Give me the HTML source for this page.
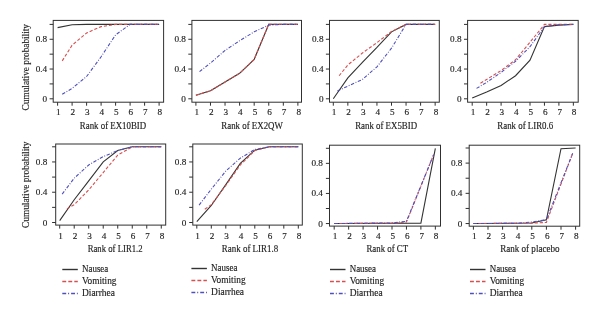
<!DOCTYPE html>
<html><head><meta charset="utf-8"><style>
html,body{margin:0;padding:0;background:#fff;width:600px;height:319px;overflow:hidden}
svg{display:block;will-change:transform}
.tk{font-family:"Liberation Serif",serif;font-size:9.2px;fill:#1e1e1e;stroke:#1e1e1e;stroke-width:0.15px}
.lab{font-family:"Liberation Serif",serif;font-size:9.3px;fill:#1e1e1e;stroke:#1e1e1e;stroke-width:0.15px}
</style></head><body>
<svg width="600" height="319" viewBox="0 0 600 319">
<rect width="600" height="319" fill="#fff"/>
<rect x="53.20" y="20.40" width="110.40" height="81.80" fill="none" stroke="#303030" stroke-width="1"/>
<line x1="49.60" y1="98.80" x2="53.20" y2="98.80" stroke="#303030" stroke-width="1"/>
<line x1="49.60" y1="83.92" x2="53.20" y2="83.92" stroke="#303030" stroke-width="1"/>
<line x1="49.60" y1="69.04" x2="53.20" y2="69.04" stroke="#303030" stroke-width="1"/>
<line x1="49.60" y1="54.16" x2="53.20" y2="54.16" stroke="#303030" stroke-width="1"/>
<line x1="49.60" y1="39.28" x2="53.20" y2="39.28" stroke="#303030" stroke-width="1"/>
<line x1="49.60" y1="24.40" x2="53.20" y2="24.40" stroke="#303030" stroke-width="1"/>
<text x="47.20" y="101.80" class="tk" text-anchor="end">0</text>
<text x="47.20" y="72.04" class="tk" text-anchor="end">0.4</text>
<text x="47.20" y="42.28" class="tk" text-anchor="end">0.8</text>
<line x1="57.60" y1="102.20" x2="57.60" y2="105.70" stroke="#303030" stroke-width="1"/>
<text x="58.40" y="115.00" class="tk" text-anchor="middle">1</text>
<line x1="72.10" y1="102.20" x2="72.10" y2="105.70" stroke="#303030" stroke-width="1"/>
<text x="72.90" y="115.00" class="tk" text-anchor="middle">2</text>
<line x1="86.60" y1="102.20" x2="86.60" y2="105.70" stroke="#303030" stroke-width="1"/>
<text x="87.40" y="115.00" class="tk" text-anchor="middle">3</text>
<line x1="101.10" y1="102.20" x2="101.10" y2="105.70" stroke="#303030" stroke-width="1"/>
<text x="101.90" y="115.00" class="tk" text-anchor="middle">4</text>
<line x1="115.60" y1="102.20" x2="115.60" y2="105.70" stroke="#303030" stroke-width="1"/>
<text x="116.40" y="115.00" class="tk" text-anchor="middle">5</text>
<line x1="130.10" y1="102.20" x2="130.10" y2="105.70" stroke="#303030" stroke-width="1"/>
<text x="130.90" y="115.00" class="tk" text-anchor="middle">6</text>
<line x1="144.60" y1="102.20" x2="144.60" y2="105.70" stroke="#303030" stroke-width="1"/>
<text x="145.40" y="115.00" class="tk" text-anchor="middle">7</text>
<line x1="159.10" y1="102.20" x2="159.10" y2="105.70" stroke="#303030" stroke-width="1"/>
<text x="159.90" y="115.00" class="tk" text-anchor="middle">8</text>
<text x="79.85" y="128.70" class="lab" textLength="66.30" lengthAdjust="spacingAndGlyphs">Rank of EX10BID</text>
<text transform="translate(28.80,67.20) rotate(-90)" class="lab" text-anchor="middle" textLength="86.4" lengthAdjust="spacingAndGlyphs">Cumulative probability</text>
<polyline points="57.60,27.60 72.10,24.70 86.60,24.40 159.10,24.40" fill="none" stroke="#333333" stroke-width="1.1"/>
<polyline points="62.24,60.86 72.10,45.23 86.60,32.96 101.10,26.63 115.60,24.40 159.10,24.40" fill="none" stroke="#d65050" stroke-width="1.1" stroke-dasharray="3.2,1.9"/>
<polyline points="62.24,94.34 72.10,88.38 86.60,76.48 101.10,56.76 115.60,34.82 130.10,24.40 159.10,24.40" fill="none" stroke="#5050bc" stroke-width="1.1" stroke-dasharray="3.4,1.6,0.9,1.6"/>
<rect x="191.90" y="20.40" width="109.60" height="81.80" fill="none" stroke="#303030" stroke-width="1"/>
<line x1="188.30" y1="98.80" x2="191.90" y2="98.80" stroke="#303030" stroke-width="1"/>
<line x1="188.30" y1="83.92" x2="191.90" y2="83.92" stroke="#303030" stroke-width="1"/>
<line x1="188.30" y1="69.04" x2="191.90" y2="69.04" stroke="#303030" stroke-width="1"/>
<line x1="188.30" y1="54.16" x2="191.90" y2="54.16" stroke="#303030" stroke-width="1"/>
<line x1="188.30" y1="39.28" x2="191.90" y2="39.28" stroke="#303030" stroke-width="1"/>
<line x1="188.30" y1="24.40" x2="191.90" y2="24.40" stroke="#303030" stroke-width="1"/>
<text x="185.90" y="101.80" class="tk" text-anchor="end">0</text>
<text x="185.90" y="72.04" class="tk" text-anchor="end">0.4</text>
<text x="185.90" y="42.28" class="tk" text-anchor="end">0.8</text>
<line x1="195.90" y1="102.20" x2="195.90" y2="105.70" stroke="#303030" stroke-width="1"/>
<text x="196.70" y="115.00" class="tk" text-anchor="middle">1</text>
<line x1="210.47" y1="102.20" x2="210.47" y2="105.70" stroke="#303030" stroke-width="1"/>
<text x="211.27" y="115.00" class="tk" text-anchor="middle">2</text>
<line x1="225.04" y1="102.20" x2="225.04" y2="105.70" stroke="#303030" stroke-width="1"/>
<text x="225.84" y="115.00" class="tk" text-anchor="middle">3</text>
<line x1="239.61" y1="102.20" x2="239.61" y2="105.70" stroke="#303030" stroke-width="1"/>
<text x="240.41" y="115.00" class="tk" text-anchor="middle">4</text>
<line x1="254.18" y1="102.20" x2="254.18" y2="105.70" stroke="#303030" stroke-width="1"/>
<text x="254.98" y="115.00" class="tk" text-anchor="middle">5</text>
<line x1="268.75" y1="102.20" x2="268.75" y2="105.70" stroke="#303030" stroke-width="1"/>
<text x="269.55" y="115.00" class="tk" text-anchor="middle">6</text>
<line x1="283.32" y1="102.20" x2="283.32" y2="105.70" stroke="#303030" stroke-width="1"/>
<text x="284.12" y="115.00" class="tk" text-anchor="middle">7</text>
<line x1="297.89" y1="102.20" x2="297.89" y2="105.70" stroke="#303030" stroke-width="1"/>
<text x="298.69" y="115.00" class="tk" text-anchor="middle">8</text>
<text x="221.35" y="128.70" class="lab" textLength="61.50" lengthAdjust="spacingAndGlyphs">Rank of EX2QW</text>
<polyline points="195.90,95.30 210.47,90.84 225.04,82.06 239.61,73.28 254.18,59.37 268.75,24.40 297.89,24.40" fill="none" stroke="#333333" stroke-width="1.1"/>
<polyline points="195.90,95.30 210.47,90.84 225.04,82.06 239.61,73.28 254.18,59.37 268.75,24.40 297.89,24.40" fill="none" stroke="#d65050" stroke-width="1.1" stroke-dasharray="3.2,1.9"/>
<polyline points="199.54,71.64 210.47,63.09 225.04,50.44 239.61,40.77 254.18,31.84 268.75,25.14 283.32,24.40 297.89,24.40" fill="none" stroke="#5050bc" stroke-width="1.1" stroke-dasharray="3.4,1.6,0.9,1.6"/>
<rect x="329.50" y="20.40" width="109.80" height="81.80" fill="none" stroke="#303030" stroke-width="1"/>
<line x1="325.90" y1="98.80" x2="329.50" y2="98.80" stroke="#303030" stroke-width="1"/>
<line x1="325.90" y1="83.92" x2="329.50" y2="83.92" stroke="#303030" stroke-width="1"/>
<line x1="325.90" y1="69.04" x2="329.50" y2="69.04" stroke="#303030" stroke-width="1"/>
<line x1="325.90" y1="54.16" x2="329.50" y2="54.16" stroke="#303030" stroke-width="1"/>
<line x1="325.90" y1="39.28" x2="329.50" y2="39.28" stroke="#303030" stroke-width="1"/>
<line x1="325.90" y1="24.40" x2="329.50" y2="24.40" stroke="#303030" stroke-width="1"/>
<text x="323.50" y="101.80" class="tk" text-anchor="end">0</text>
<text x="323.50" y="72.04" class="tk" text-anchor="end">0.4</text>
<text x="323.50" y="42.28" class="tk" text-anchor="end">0.8</text>
<line x1="333.30" y1="102.20" x2="333.30" y2="105.70" stroke="#303030" stroke-width="1"/>
<text x="334.10" y="115.00" class="tk" text-anchor="middle">1</text>
<line x1="347.85" y1="102.20" x2="347.85" y2="105.70" stroke="#303030" stroke-width="1"/>
<text x="348.65" y="115.00" class="tk" text-anchor="middle">2</text>
<line x1="362.40" y1="102.20" x2="362.40" y2="105.70" stroke="#303030" stroke-width="1"/>
<text x="363.20" y="115.00" class="tk" text-anchor="middle">3</text>
<line x1="376.95" y1="102.20" x2="376.95" y2="105.70" stroke="#303030" stroke-width="1"/>
<text x="377.75" y="115.00" class="tk" text-anchor="middle">4</text>
<line x1="391.50" y1="102.20" x2="391.50" y2="105.70" stroke="#303030" stroke-width="1"/>
<text x="392.30" y="115.00" class="tk" text-anchor="middle">5</text>
<line x1="406.05" y1="102.20" x2="406.05" y2="105.70" stroke="#303030" stroke-width="1"/>
<text x="406.85" y="115.00" class="tk" text-anchor="middle">6</text>
<line x1="420.60" y1="102.20" x2="420.60" y2="105.70" stroke="#303030" stroke-width="1"/>
<text x="421.40" y="115.00" class="tk" text-anchor="middle">7</text>
<line x1="435.15" y1="102.20" x2="435.15" y2="105.70" stroke="#303030" stroke-width="1"/>
<text x="435.95" y="115.00" class="tk" text-anchor="middle">8</text>
<text x="355.15" y="128.70" class="lab" textLength="61.90" lengthAdjust="spacingAndGlyphs">Rank of EX5BID</text>
<polyline points="333.30,98.80 347.85,77.97 362.40,62.34 376.95,47.46 391.50,31.84 406.05,24.40 435.15,24.40" fill="none" stroke="#333333" stroke-width="1.1"/>
<polyline points="339.12,75.74 347.85,64.95 362.40,53.04 376.95,42.63 391.50,31.47 406.05,24.40 435.15,24.40" fill="none" stroke="#d65050" stroke-width="1.1" stroke-dasharray="3.2,1.9"/>
<polyline points="337.37,90.99 347.85,86.15 362.40,79.46 376.95,66.81 391.50,48.21 406.05,24.40 435.15,24.40" fill="none" stroke="#5050bc" stroke-width="1.1" stroke-dasharray="3.4,1.6,0.9,1.6"/>
<rect x="467.60" y="20.40" width="110.60" height="81.80" fill="none" stroke="#303030" stroke-width="1"/>
<line x1="464.00" y1="98.80" x2="467.60" y2="98.80" stroke="#303030" stroke-width="1"/>
<line x1="464.00" y1="83.92" x2="467.60" y2="83.92" stroke="#303030" stroke-width="1"/>
<line x1="464.00" y1="69.04" x2="467.60" y2="69.04" stroke="#303030" stroke-width="1"/>
<line x1="464.00" y1="54.16" x2="467.60" y2="54.16" stroke="#303030" stroke-width="1"/>
<line x1="464.00" y1="39.28" x2="467.60" y2="39.28" stroke="#303030" stroke-width="1"/>
<line x1="464.00" y1="24.40" x2="467.60" y2="24.40" stroke="#303030" stroke-width="1"/>
<text x="461.60" y="101.80" class="tk" text-anchor="end">0</text>
<text x="461.60" y="72.04" class="tk" text-anchor="end">0.4</text>
<text x="461.60" y="42.28" class="tk" text-anchor="end">0.8</text>
<line x1="472.20" y1="102.20" x2="472.20" y2="105.70" stroke="#303030" stroke-width="1"/>
<text x="473.00" y="115.00" class="tk" text-anchor="middle">1</text>
<line x1="486.65" y1="102.20" x2="486.65" y2="105.70" stroke="#303030" stroke-width="1"/>
<text x="487.45" y="115.00" class="tk" text-anchor="middle">2</text>
<line x1="501.10" y1="102.20" x2="501.10" y2="105.70" stroke="#303030" stroke-width="1"/>
<text x="501.90" y="115.00" class="tk" text-anchor="middle">3</text>
<line x1="515.55" y1="102.20" x2="515.55" y2="105.70" stroke="#303030" stroke-width="1"/>
<text x="516.35" y="115.00" class="tk" text-anchor="middle">4</text>
<line x1="530.00" y1="102.20" x2="530.00" y2="105.70" stroke="#303030" stroke-width="1"/>
<text x="530.80" y="115.00" class="tk" text-anchor="middle">5</text>
<line x1="544.45" y1="102.20" x2="544.45" y2="105.70" stroke="#303030" stroke-width="1"/>
<text x="545.25" y="115.00" class="tk" text-anchor="middle">6</text>
<line x1="558.90" y1="102.20" x2="558.90" y2="105.70" stroke="#303030" stroke-width="1"/>
<text x="559.70" y="115.00" class="tk" text-anchor="middle">7</text>
<line x1="573.35" y1="102.20" x2="573.35" y2="105.70" stroke="#303030" stroke-width="1"/>
<text x="574.15" y="115.00" class="tk" text-anchor="middle">8</text>
<text x="497.35" y="128.70" class="lab" textLength="55.80" lengthAdjust="spacingAndGlyphs">Rank of LIR0.6</text>
<polyline points="472.20,97.91 486.65,92.10 501.10,85.41 515.55,75.74 530.00,60.11 544.45,26.63 558.90,25.14 573.35,24.40" fill="none" stroke="#333333" stroke-width="1.1"/>
<polyline points="480.44,83.18 486.65,79.46 501.10,70.53 515.55,59.74 530.00,42.26 544.45,24.40 573.35,24.40" fill="none" stroke="#d65050" stroke-width="1.1" stroke-dasharray="3.2,1.9"/>
<polyline points="476.53,88.38 486.65,82.43 501.10,72.39 515.55,61.23 530.00,46.72 544.45,26.63 558.90,24.77 573.35,24.40" fill="none" stroke="#5050bc" stroke-width="1.1" stroke-dasharray="3.4,1.6,0.9,1.6"/>
<rect x="55.70" y="144.00" width="110.00" height="81.10" fill="none" stroke="#303030" stroke-width="1"/>
<line x1="52.10" y1="222.50" x2="55.70" y2="222.50" stroke="#303030" stroke-width="1"/>
<line x1="52.10" y1="207.36" x2="55.70" y2="207.36" stroke="#303030" stroke-width="1"/>
<line x1="52.10" y1="192.22" x2="55.70" y2="192.22" stroke="#303030" stroke-width="1"/>
<line x1="52.10" y1="177.08" x2="55.70" y2="177.08" stroke="#303030" stroke-width="1"/>
<line x1="52.10" y1="161.94" x2="55.70" y2="161.94" stroke="#303030" stroke-width="1"/>
<line x1="52.10" y1="146.80" x2="55.70" y2="146.80" stroke="#303030" stroke-width="1"/>
<text x="47.30" y="225.50" class="tk" text-anchor="end">0</text>
<text x="47.30" y="195.22" class="tk" text-anchor="end">0.4</text>
<text x="47.30" y="164.94" class="tk" text-anchor="end">0.8</text>
<line x1="59.70" y1="225.10" x2="59.70" y2="228.60" stroke="#303030" stroke-width="1"/>
<text x="60.50" y="239.00" class="tk" text-anchor="middle">1</text>
<line x1="74.21" y1="225.10" x2="74.21" y2="228.60" stroke="#303030" stroke-width="1"/>
<text x="75.01" y="239.00" class="tk" text-anchor="middle">2</text>
<line x1="88.72" y1="225.10" x2="88.72" y2="228.60" stroke="#303030" stroke-width="1"/>
<text x="89.52" y="239.00" class="tk" text-anchor="middle">3</text>
<line x1="103.23" y1="225.10" x2="103.23" y2="228.60" stroke="#303030" stroke-width="1"/>
<text x="104.03" y="239.00" class="tk" text-anchor="middle">4</text>
<line x1="117.74" y1="225.10" x2="117.74" y2="228.60" stroke="#303030" stroke-width="1"/>
<text x="118.54" y="239.00" class="tk" text-anchor="middle">5</text>
<line x1="132.25" y1="225.10" x2="132.25" y2="228.60" stroke="#303030" stroke-width="1"/>
<text x="133.05" y="239.00" class="tk" text-anchor="middle">6</text>
<line x1="146.76" y1="225.10" x2="146.76" y2="228.60" stroke="#303030" stroke-width="1"/>
<text x="147.56" y="239.00" class="tk" text-anchor="middle">7</text>
<line x1="161.27" y1="225.10" x2="161.27" y2="228.60" stroke="#303030" stroke-width="1"/>
<text x="162.07" y="239.00" class="tk" text-anchor="middle">8</text>
<text x="87.65" y="252.30" class="lab" textLength="55.00" lengthAdjust="spacingAndGlyphs">Rank of LIR1.2</text>
<text transform="translate(28.80,184.70) rotate(-90)" class="lab" text-anchor="middle" textLength="86.4" lengthAdjust="spacingAndGlyphs">Cumulative probability</text>
<polyline points="59.70,220.68 74.21,199.79 88.72,180.87 103.23,161.94 117.74,150.59 132.25,146.80 161.27,146.80" fill="none" stroke="#333333" stroke-width="1.1"/>
<polyline points="66.95,208.87 74.21,204.71 88.72,189.95 103.23,172.54 117.74,155.13 132.25,146.80 161.27,146.80" fill="none" stroke="#d65050" stroke-width="1.1" stroke-dasharray="3.2,1.9"/>
<polyline points="62.17,194.11 74.21,178.22 88.72,164.97 103.23,156.64 117.74,150.59 132.25,146.80 161.27,146.80" fill="none" stroke="#5050bc" stroke-width="1.1" stroke-dasharray="3.4,1.6,0.9,1.6"/>
<rect x="192.80" y="144.00" width="109.50" height="81.10" fill="none" stroke="#303030" stroke-width="1"/>
<line x1="189.20" y1="222.50" x2="192.80" y2="222.50" stroke="#303030" stroke-width="1"/>
<line x1="189.20" y1="207.36" x2="192.80" y2="207.36" stroke="#303030" stroke-width="1"/>
<line x1="189.20" y1="192.22" x2="192.80" y2="192.22" stroke="#303030" stroke-width="1"/>
<line x1="189.20" y1="177.08" x2="192.80" y2="177.08" stroke="#303030" stroke-width="1"/>
<line x1="189.20" y1="161.94" x2="192.80" y2="161.94" stroke="#303030" stroke-width="1"/>
<line x1="189.20" y1="146.80" x2="192.80" y2="146.80" stroke="#303030" stroke-width="1"/>
<text x="186.30" y="225.50" class="tk" text-anchor="end">0</text>
<text x="186.30" y="195.22" class="tk" text-anchor="end">0.4</text>
<text x="186.30" y="164.94" class="tk" text-anchor="end">0.8</text>
<line x1="196.80" y1="225.10" x2="196.80" y2="228.60" stroke="#303030" stroke-width="1"/>
<text x="197.60" y="239.00" class="tk" text-anchor="middle">1</text>
<line x1="211.30" y1="225.10" x2="211.30" y2="228.60" stroke="#303030" stroke-width="1"/>
<text x="212.10" y="239.00" class="tk" text-anchor="middle">2</text>
<line x1="225.80" y1="225.10" x2="225.80" y2="228.60" stroke="#303030" stroke-width="1"/>
<text x="226.60" y="239.00" class="tk" text-anchor="middle">3</text>
<line x1="240.30" y1="225.10" x2="240.30" y2="228.60" stroke="#303030" stroke-width="1"/>
<text x="241.10" y="239.00" class="tk" text-anchor="middle">4</text>
<line x1="254.80" y1="225.10" x2="254.80" y2="228.60" stroke="#303030" stroke-width="1"/>
<text x="255.60" y="239.00" class="tk" text-anchor="middle">5</text>
<line x1="269.30" y1="225.10" x2="269.30" y2="228.60" stroke="#303030" stroke-width="1"/>
<text x="270.10" y="239.00" class="tk" text-anchor="middle">6</text>
<line x1="283.80" y1="225.10" x2="283.80" y2="228.60" stroke="#303030" stroke-width="1"/>
<text x="284.60" y="239.00" class="tk" text-anchor="middle">7</text>
<line x1="298.30" y1="225.10" x2="298.30" y2="228.60" stroke="#303030" stroke-width="1"/>
<text x="299.10" y="239.00" class="tk" text-anchor="middle">8</text>
<text x="221.85" y="252.30" class="lab" textLength="56.30" lengthAdjust="spacingAndGlyphs">Rank of LIR1.8</text>
<polyline points="196.80,221.52 211.30,205.47 225.80,184.65 240.30,163.45 254.80,150.21 269.30,146.80 298.30,146.80" fill="none" stroke="#333333" stroke-width="1.1"/>
<polyline points="204.78,209.25 211.30,204.71 225.80,185.41 240.30,164.97 254.80,150.59 269.30,146.80 298.30,146.80" fill="none" stroke="#d65050" stroke-width="1.1" stroke-dasharray="3.2,1.9"/>
<polyline points="199.12,205.09 211.30,189.19 225.80,171.02 240.30,158.16 254.80,149.45 269.30,146.80 298.30,146.80" fill="none" stroke="#5050bc" stroke-width="1.1" stroke-dasharray="3.4,1.6,0.9,1.6"/>
<rect x="329.50" y="145.20" width="111.00" height="80.90" fill="none" stroke="#303030" stroke-width="1"/>
<line x1="325.90" y1="223.55" x2="329.50" y2="223.55" stroke="#303030" stroke-width="1"/>
<line x1="325.90" y1="208.50" x2="329.50" y2="208.50" stroke="#303030" stroke-width="1"/>
<line x1="325.90" y1="193.45" x2="329.50" y2="193.45" stroke="#303030" stroke-width="1"/>
<line x1="325.90" y1="178.40" x2="329.50" y2="178.40" stroke="#303030" stroke-width="1"/>
<line x1="325.90" y1="163.35" x2="329.50" y2="163.35" stroke="#303030" stroke-width="1"/>
<line x1="325.90" y1="148.30" x2="329.50" y2="148.30" stroke="#303030" stroke-width="1"/>
<text x="322.90" y="226.55" class="tk" text-anchor="end">0</text>
<text x="322.90" y="196.45" class="tk" text-anchor="end">0.4</text>
<text x="322.90" y="166.35" class="tk" text-anchor="end">0.8</text>
<line x1="334.20" y1="226.10" x2="334.20" y2="229.60" stroke="#303030" stroke-width="1"/>
<text x="335.00" y="238.90" class="tk" text-anchor="middle">1</text>
<line x1="348.65" y1="226.10" x2="348.65" y2="229.60" stroke="#303030" stroke-width="1"/>
<text x="349.45" y="238.90" class="tk" text-anchor="middle">2</text>
<line x1="363.10" y1="226.10" x2="363.10" y2="229.60" stroke="#303030" stroke-width="1"/>
<text x="363.90" y="238.90" class="tk" text-anchor="middle">3</text>
<line x1="377.55" y1="226.10" x2="377.55" y2="229.60" stroke="#303030" stroke-width="1"/>
<text x="378.35" y="238.90" class="tk" text-anchor="middle">4</text>
<line x1="392.00" y1="226.10" x2="392.00" y2="229.60" stroke="#303030" stroke-width="1"/>
<text x="392.80" y="238.90" class="tk" text-anchor="middle">5</text>
<line x1="406.45" y1="226.10" x2="406.45" y2="229.60" stroke="#303030" stroke-width="1"/>
<text x="407.25" y="238.90" class="tk" text-anchor="middle">6</text>
<line x1="420.90" y1="226.10" x2="420.90" y2="229.60" stroke="#303030" stroke-width="1"/>
<text x="421.70" y="238.90" class="tk" text-anchor="middle">7</text>
<line x1="435.35" y1="226.10" x2="435.35" y2="229.60" stroke="#303030" stroke-width="1"/>
<text x="436.15" y="238.90" class="tk" text-anchor="middle">8</text>
<text x="366.45" y="252.30" class="lab" textLength="41.70" lengthAdjust="spacingAndGlyphs">Rank of CT</text>
<polyline points="334.20,223.55 420.90,223.17 435.35,148.30" fill="none" stroke="#333333" stroke-width="1.1"/>
<polyline points="334.20,223.55 392.00,223.17 406.45,222.05 433.62,154.70" fill="none" stroke="#d65050" stroke-width="1.1" stroke-dasharray="3.2,1.9"/>
<polyline points="334.20,223.55 392.00,222.95 406.45,221.29 433.62,154.70" fill="none" stroke="#5050bc" stroke-width="1.1" stroke-dasharray="3.4,1.6,0.9,1.6"/>
<rect x="469.20" y="145.20" width="110.50" height="81.00" fill="none" stroke="#303030" stroke-width="1"/>
<line x1="465.60" y1="223.55" x2="469.20" y2="223.55" stroke="#303030" stroke-width="1"/>
<line x1="465.60" y1="208.44" x2="469.20" y2="208.44" stroke="#303030" stroke-width="1"/>
<line x1="465.60" y1="193.33" x2="469.20" y2="193.33" stroke="#303030" stroke-width="1"/>
<line x1="465.60" y1="178.22" x2="469.20" y2="178.22" stroke="#303030" stroke-width="1"/>
<line x1="465.60" y1="163.11" x2="469.20" y2="163.11" stroke="#303030" stroke-width="1"/>
<line x1="465.60" y1="148.00" x2="469.20" y2="148.00" stroke="#303030" stroke-width="1"/>
<text x="462.40" y="226.55" class="tk" text-anchor="end">0</text>
<text x="462.40" y="196.33" class="tk" text-anchor="end">0.4</text>
<text x="462.40" y="166.11" class="tk" text-anchor="end">0.8</text>
<line x1="473.40" y1="226.20" x2="473.40" y2="229.70" stroke="#303030" stroke-width="1"/>
<text x="474.20" y="239.00" class="tk" text-anchor="middle">1</text>
<line x1="488.00" y1="226.20" x2="488.00" y2="229.70" stroke="#303030" stroke-width="1"/>
<text x="488.80" y="239.00" class="tk" text-anchor="middle">2</text>
<line x1="502.60" y1="226.20" x2="502.60" y2="229.70" stroke="#303030" stroke-width="1"/>
<text x="503.40" y="239.00" class="tk" text-anchor="middle">3</text>
<line x1="517.20" y1="226.20" x2="517.20" y2="229.70" stroke="#303030" stroke-width="1"/>
<text x="518.00" y="239.00" class="tk" text-anchor="middle">4</text>
<line x1="531.80" y1="226.20" x2="531.80" y2="229.70" stroke="#303030" stroke-width="1"/>
<text x="532.60" y="239.00" class="tk" text-anchor="middle">5</text>
<line x1="546.40" y1="226.20" x2="546.40" y2="229.70" stroke="#303030" stroke-width="1"/>
<text x="547.20" y="239.00" class="tk" text-anchor="middle">6</text>
<line x1="561.00" y1="226.20" x2="561.00" y2="229.70" stroke="#303030" stroke-width="1"/>
<text x="561.80" y="239.00" class="tk" text-anchor="middle">7</text>
<line x1="575.60" y1="226.20" x2="575.60" y2="229.70" stroke="#303030" stroke-width="1"/>
<text x="576.40" y="239.00" class="tk" text-anchor="middle">8</text>
<text x="500.15" y="252.30" class="lab" textLength="59.40" lengthAdjust="spacingAndGlyphs">Rank of placebo</text>
<polyline points="473.40,223.55 531.80,223.02 546.40,219.77 561.00,148.76 575.60,148.00" fill="none" stroke="#333333" stroke-width="1.1"/>
<polyline points="473.40,223.55 531.80,223.17 546.40,222.42 572.68,153.29" fill="none" stroke="#d65050" stroke-width="1.1" stroke-dasharray="3.2,1.9"/>
<polyline points="473.40,223.55 517.20,223.32 531.80,222.04 546.40,219.77 572.68,153.29" fill="none" stroke="#5050bc" stroke-width="1.1" stroke-dasharray="3.4,1.6,0.9,1.6"/>
<line x1="62.30" y1="269.50" x2="77.80" y2="269.50" stroke="#333333" stroke-width="1.4"/>
<line x1="62.30" y1="281.50" x2="77.80" y2="281.50" stroke="#d65050" stroke-width="1.4" stroke-dasharray="3.9,2.1"/>
<line x1="62.30" y1="293.50" x2="77.80" y2="293.50" stroke="#5050bc" stroke-width="1.4" stroke-dasharray="3.9,1.9,1,2"/>
<text x="82.00" y="272.45" class="lab" textLength="26.3" lengthAdjust="spacingAndGlyphs">Nausea</text>
<text x="82.00" y="284.45" class="lab" textLength="34.5" lengthAdjust="spacingAndGlyphs">Vomiting</text>
<text x="82.00" y="296.45" class="lab" textLength="32.9" lengthAdjust="spacingAndGlyphs">Diarrhea</text>
<line x1="191.40" y1="268.50" x2="206.90" y2="268.50" stroke="#333333" stroke-width="1.4"/>
<line x1="191.40" y1="280.50" x2="206.90" y2="280.50" stroke="#d65050" stroke-width="1.4" stroke-dasharray="3.9,2.1"/>
<line x1="191.40" y1="292.50" x2="206.90" y2="292.50" stroke="#5050bc" stroke-width="1.4" stroke-dasharray="3.9,1.9,1,2"/>
<text x="211.10" y="271.45" class="lab" textLength="26.3" lengthAdjust="spacingAndGlyphs">Nausea</text>
<text x="211.10" y="283.45" class="lab" textLength="34.5" lengthAdjust="spacingAndGlyphs">Vomiting</text>
<text x="211.10" y="295.45" class="lab" textLength="32.9" lengthAdjust="spacingAndGlyphs">Diarrhea</text>
<line x1="330.00" y1="269.50" x2="345.50" y2="269.50" stroke="#333333" stroke-width="1.4"/>
<line x1="330.00" y1="281.50" x2="345.50" y2="281.50" stroke="#d65050" stroke-width="1.4" stroke-dasharray="3.9,2.1"/>
<line x1="330.00" y1="293.50" x2="345.50" y2="293.50" stroke="#5050bc" stroke-width="1.4" stroke-dasharray="3.9,1.9,1,2"/>
<text x="349.70" y="272.45" class="lab" textLength="26.3" lengthAdjust="spacingAndGlyphs">Nausea</text>
<text x="349.70" y="284.45" class="lab" textLength="34.5" lengthAdjust="spacingAndGlyphs">Vomiting</text>
<text x="349.70" y="296.45" class="lab" textLength="32.9" lengthAdjust="spacingAndGlyphs">Diarrhea</text>
<line x1="470.00" y1="269.50" x2="485.50" y2="269.50" stroke="#333333" stroke-width="1.4"/>
<line x1="470.00" y1="281.50" x2="485.50" y2="281.50" stroke="#d65050" stroke-width="1.4" stroke-dasharray="3.9,2.1"/>
<line x1="470.00" y1="293.50" x2="485.50" y2="293.50" stroke="#5050bc" stroke-width="1.4" stroke-dasharray="3.9,1.9,1,2"/>
<text x="489.70" y="272.45" class="lab" textLength="26.3" lengthAdjust="spacingAndGlyphs">Nausea</text>
<text x="489.70" y="284.45" class="lab" textLength="34.5" lengthAdjust="spacingAndGlyphs">Vomiting</text>
<text x="489.70" y="296.45" class="lab" textLength="32.9" lengthAdjust="spacingAndGlyphs">Diarrhea</text>
</svg>
</body></html>
